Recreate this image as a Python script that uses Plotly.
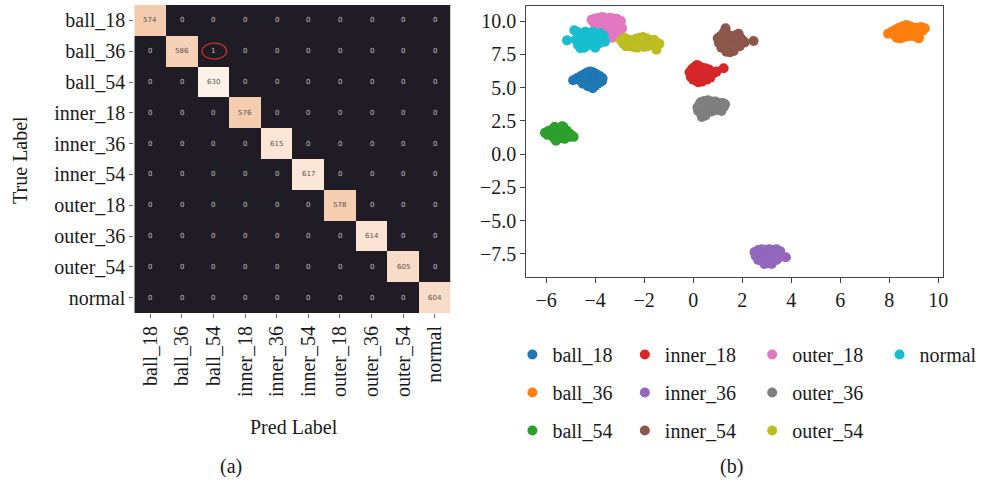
import plotly.graph_objects as go

W, H = 989, 487

# ---------------- confusion matrix ----------------
class_names = ["ball_18", "ball_36", "ball_54", "inner_18", "inner_36",
               "inner_54", "outer_18", "outer_36", "outer_54", "normal"]
diag_counts = [574, 586, 630, 576, 615, 617, 578, 614, 605, 604]
off_diag = [(1, 2, 1)]  # (true row, predicted col, count)

conf = [[0] * 10 for _ in range(10)]
for i, v in enumerate(diag_counts):
    conf[i][i] = v
for r, c, v in off_diag:
    conf[r][c] = v

# ---------------- embedding clusters ----------------
ball_18_x = [-4.9, -4.75, -4.6, -4.5, -4.4, -4.3, -4.2, -4.1, -4.0, -3.9, -3.8, -3.7, -4.6, -4.45, -4.3, -4.15, -4.0, -3.85, -3.72, -4.5, -4.35, -4.2, -4.05, -3.9, -4.3, -4.15, -4.0, -4.1, -4.4, -3.8]
ball_18_y = [5.55, 5.7, 5.85, 5.95, 6.05, 6.15, 6.2, 6.15, 6.05, 5.95, 5.85, 5.7, 5.5, 5.55, 5.6, 5.65, 5.6, 5.55, 5.5, 5.3, 5.25, 5.3, 5.35, 5.3, 5.1, 5.05, 5.15, 4.95, 5.8, 5.4]

ball_36_x = [7.95, 8.1, 8.25, 8.4, 8.55, 8.7, 8.85, 9.0, 9.15, 9.3, 9.45, 8.2, 8.35, 8.5, 8.65, 8.8, 8.95, 9.1, 9.25, 8.3, 8.45, 8.6, 8.75, 8.9, 9.05, 9.2, 8.5, 8.65, 8.4, 9.35, 9.2]
ball_36_y = [9.05, 9.2, 9.35, 9.5, 9.6, 9.7, 9.6, 9.5, 9.5, 9.55, 9.45, 8.95, 9.0, 9.1, 9.2, 9.3, 9.3, 9.2, 9.15, 8.75, 8.7, 8.8, 8.85, 8.9, 8.85, 8.75, 9.4, 9.45, 9.2, 9.25, 8.7]

ball_54_x = [-6.05, -5.9, -5.75, -5.6, -5.45, -5.3, -5.15, -5.0, -4.88, -5.95, -5.8, -5.65, -5.5, -5.35, -5.2, -5.05, -5.7, -5.55, -5.4, -5.25, -5.6, -5.45, -5.65, -5.35, -5.5, -5.3]
ball_54_y = [1.6, 1.75, 1.85, 1.95, 1.9, 2.05, 1.75, 1.5, 1.3, 1.45, 1.5, 1.55, 1.6, 1.55, 1.45, 1.3, 1.25, 1.2, 1.2, 1.15, 1.0, 1.3, 2.05, 2.1, 1.75, 1.65]

inner_18_x = [-0.15, -0.05, 0.05, 0.15, 0.25, 0.35, 0.5, 0.65, -0.1, 0.0, 0.1, 0.2, 0.3, 0.4, 0.55, 0.7, 0.85, 0.0, 0.1, 0.25, 0.4, 0.55, 0.7, 0.2, 0.35, 0.15, 0.5, 1.24, 0.95, 0.3]
inner_18_y = [6.15, 6.4, 6.55, 6.7, 6.6, 6.5, 6.45, 6.35, 5.8, 6.0, 6.2, 6.25, 6.2, 6.1, 6.05, 6.0, 6.1, 5.6, 5.55, 5.65, 5.7, 5.6, 5.75, 5.4, 5.45, 5.9, 6.3, 6.45, 6.2, 5.95]

inner_36_x = [2.5, 2.65, 2.8, 2.95, 3.1, 3.25, 3.4, 3.55, 2.55, 2.7, 2.85, 3.0, 3.15, 3.3, 3.45, 3.6, 3.78, 2.65, 2.8, 2.95, 3.1, 3.25, 3.4, 2.9, 3.05, 3.2]
inner_36_y = [-7.35, -7.2, -7.15, -7.2, -7.15, -7.2, -7.15, -7.3, -7.65, -7.6, -7.55, -7.6, -7.55, -7.6, -7.55, -7.7, -7.75, -7.95, -8.0, -7.95, -8.0, -7.9, -7.95, -8.25, -8.2, -8.25]

inner_54_x = [1.0, 1.1, 1.2, 1.3, 1.45, 1.6, 1.75, 1.9, 2.0, 1.05, 1.2, 1.35, 1.5, 1.65, 1.8, 1.95, 2.1, 1.15, 1.3, 1.45, 1.6, 1.75, 1.9, 1.35, 1.5, 1.65, 1.32, 2.46, 1.25, 1.85, 1.55]
inner_54_y = [8.7, 8.85, 8.9, 8.95, 8.95, 8.85, 8.95, 8.8, 8.6, 8.35, 8.4, 8.5, 8.45, 8.5, 8.4, 8.3, 8.4, 8.0, 8.05, 8.1, 8.0, 8.05, 8.1, 7.7, 7.65, 7.75, 9.45, 8.5, 9.15, 9.05, 8.2]

outer_18_x = [-4.15, -4.0, -3.85, -3.7, -3.55, -3.4, -3.25, -3.1, -2.95, -4.05, -3.9, -3.75, -3.6, -3.45, -3.3, -3.15, -3.0, -2.9, -3.8, -3.65, -3.5, -3.35, -3.2, -3.05, -3.5, -3.35, -3.2, -3.3, -3.9, -3.6]
outer_18_y = [10.1, 10.2, 10.25, 10.3, 10.2, 10.25, 10.2, 10.15, 10.0, 9.85, 9.9, 9.95, 9.9, 9.85, 9.9, 9.8, 9.7, 9.45, 9.55, 9.5, 9.55, 9.5, 9.4, 9.2, 9.15, 9.05, 8.95, 8.75, 9.4, 9.3]

outer_36_x = [0.17, 0.3, 0.45, 0.6, 0.75, 0.9, 1.05, 1.2, 1.3, 0.2, 0.35, 0.5, 0.65, 0.8, 0.95, 1.1, 1.25, 0.3, 0.45, 0.6, 0.75, 0.9, 0.35, 0.5, 0.25, 1.15]
outer_36_y = [3.5, 3.9, 4.0, 4.05, 3.95, 3.95, 3.85, 3.85, 3.75, 3.25, 3.4, 3.5, 3.55, 3.5, 3.45, 3.4, 3.55, 3.1, 3.15, 3.25, 3.2, 3.3, 2.8, 2.9, 3.7, 3.25]

outer_54_x = [-2.95, -2.8, -2.65, -2.5, -2.35, -2.2, -2.05, -1.9, -1.75, -1.6, -2.85, -2.7, -2.55, -2.4, -2.25, -2.1, -1.95, -1.8, -1.65, -1.5, -1.38, -2.6, -2.45, -2.3, -2.15, -2.0, -1.85, -1.5, -2.75, -2.0]
outer_54_y = [8.55, 8.75, 8.6, 8.55, 8.65, 8.75, 8.8, 8.7, 8.55, 8.6, 8.3, 8.35, 8.3, 8.4, 8.35, 8.4, 8.4, 8.3, 8.35, 8.4, 8.3, 8.1, 8.05, 8.0, 8.1, 8.05, 8.1, 7.85, 8.1, 8.55]

normal_x = [-5.15, -4.85, -4.7, -4.55, -4.4, -4.25, -4.1, -3.95, -3.8, -3.65, -4.8, -4.65, -4.5, -4.35, -4.2, -4.05, -3.9, -3.75, -3.6, -4.7, -4.55, -4.4, -4.25, -4.1, -3.95, -3.8, -4.6, -4.45, -4.0, -4.3]
normal_y = [8.55, 9.3, 9.15, 9.05, 9.2, 9.1, 9.2, 9.05, 9.1, 8.9, 8.6, 8.7, 8.65, 8.6, 8.7, 8.6, 8.65, 8.55, 8.45, 8.2, 8.25, 8.3, 8.2, 8.3, 8.25, 8.35, 7.95, 8.0, 8.0, 8.4]

clusters = [
    ("ball_18", ball_18_x, ball_18_y),
    ("ball_36", ball_36_x, ball_36_y),
    ("ball_54", ball_54_x, ball_54_y),
    ("inner_18", inner_18_x, inner_18_y),
    ("inner_36", inner_36_x, inner_36_y),
    ("inner_54", inner_54_x, inner_54_y),
    ("outer_18", outer_18_x, outer_18_y),
    ("outer_36", outer_36_x, outer_36_y),
    ("outer_54", outer_54_x, outer_54_y),
    ("normal", normal_x, normal_y),
]
palette = ["#1f77b4", "#ff7f0e", "#2ca02c", "#d62728", "#9467bd",
           "#8c564b", "#e377c2", "#7f7f7f", "#bcbd22", "#17becf"]
# legend column for each class (ball / inner / outer / normal)
legend_col = ["legend", "legend", "legend", "legend2", "legend2", "legend2",
              "legend3", "legend3", "legend3", "legend4"]

x_ticks = [-6, -4, -2, 0, 2, 4, 6, 8, 10]
y_ticks = [-7.5, -5.0, -2.5, 0.0, 2.5, 5.0, 7.5, 10.0]

SERIF = "Liberation Serif"
TXT = "#1a1a1a"


def px(x):
    return x / W


def py(y):
    return 1 - y / H


def minus(s):
    return s.replace("-", "\u2212")


fig = go.Figure()

fig.add_trace(go.Heatmap(
    z=conf, x=list(range(10)), y=list(range(10)),
    zmin=0, zmax=630, showscale=False, hoverinfo="skip",
    colorscale=[[0, "#1f1c25"], [0.5, "#1f1c25"], [0.9, "#f3c7a8"],
                [0.93, "#f6d1b7"], [0.96, "#f9dcc8"], [0.978, "#fbe6d6"],
                [1, "#fdf2e8"]],
    xaxis="x", yaxis="y",
))

annotations = []
for r in range(10):
    for c in range(10):
        v = conf[r][c]
        annotations.append(dict(
            x=c, y=r, xref="x", yref="y", text=str(v), showarrow=False,
            font=dict(family="DejaVu Sans", size=7,
                      color="#5a5050" if v > 300 else "#c4c4c4"),
        ))

for k, (name, xs, ys) in enumerate(clusters):
    fig.add_trace(go.Scatter(
        x=xs, y=ys, mode="markers", name=name,
        marker=dict(size=10, color=palette[k], line=dict(width=0)),
        xaxis="x2", yaxis="y2", legend=legend_col[k], legendgroup=name,
        hoverinfo="skip",
    ))

# text labels
for text, x, y, ang in [("True Label", 20, 160, -90), ("Pred Label", 295, 427, 0),
                        ("(a)", 232, 466, 0), ("(b)", 735, 466, 0)]:
    annotations.append(dict(
        x=px(x), y=py(y), xref="paper", yref="paper", text=text, showarrow=False,
        textangle=ang, xanchor="center", yanchor="middle",
        font=dict(family=SERIF, size=20, color=TXT),
    ))

# highlight of the single misclassified sample
shapes = [dict(type="circle", xref="x", yref="y", x0=2 - 0.36, x1=2 + 0.42,
               y0=1 - 0.26, y1=1 + 0.26, line=dict(color="#d0312d", width=1.2))]

legend_base = dict(orientation="v", xanchor="left", yanchor="top",
                   bgcolor="rgba(0,0,0,0)", borderwidth=0, tracegroupgap=9,
                   itemwidth=30, font=dict(family=SERIF, size=20, color=TXT))
legend_x = [535, 648, 776, 904]
legend_top = 335

layout = dict(
    width=W, height=H, margin=dict(l=0, r=0, t=0, b=0),
    paper_bgcolor="white", plot_bgcolor="white",
    showlegend=True,
    xaxis=dict(domain=[px(135), px(453)], range=[-0.5, 9.5],
               tickvals=list(range(10)), ticktext=class_names, tickangle=-90,
               ticks="outside", ticklen=4, tickcolor="#666", showgrid=False,
               zeroline=False, showline=False,
               tickfont=dict(family=SERIF, size=20, color=TXT), anchor="y"),
    yaxis=dict(domain=[py(313), py(5)], range=[9.5, -0.5],
               tickvals=list(range(10)), ticktext=class_names,
               ticks="outside", ticklen=4, tickcolor="#666", showgrid=False,
               zeroline=False, showline=False,
               tickfont=dict(family=SERIF, size=20, color=TXT), anchor="x"),
    xaxis2=dict(domain=[px(529), px(948)], range=[-6.81, 10.2],
                tickvals=x_ticks, ticktext=[minus(str(v)) for v in x_ticks],
                ticks="outside", ticklen=5, tickcolor="#444", showgrid=False,
                zeroline=False, showline=True, linecolor="#444", linewidth=1,
                mirror=True, tickfont=dict(family=SERIF, size=20, color=TXT),
                anchor="y2"),
    yaxis2=dict(domain=[py(277), py(6)], range=[-9.23, 11.13],
                tickvals=y_ticks, ticktext=[minus(f"{v:.1f}") for v in y_ticks],
                ticks="outside", ticklen=5, tickcolor="#444", showgrid=False,
                zeroline=False, showline=True, linecolor="#444", linewidth=1,
                mirror=True, tickfont=dict(family=SERIF, size=20, color=TXT),
                anchor="x2"),
    annotations=annotations, shapes=shapes,
)
for i, key in enumerate(["legend", "legend2", "legend3", "legend4"]):
    layout[key] = dict(legend_base, x=px(legend_x[i] - 20), y=py(legend_top))

fig.update_layout(**layout)
fig.write_html("out.html")
